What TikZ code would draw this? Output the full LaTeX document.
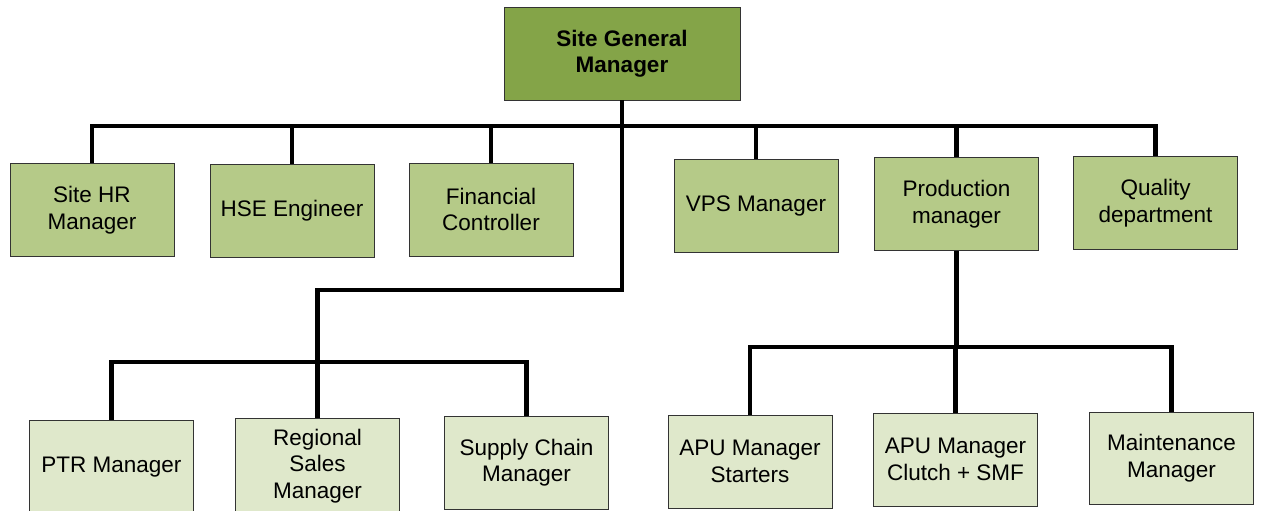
\documentclass[tikz,border=0pt]{standalone}
\usepackage{fontspec}
\setmainfont{Liberation Sans}
\definecolor{topgreen}{HTML}{84A448}
\definecolor{midgreen}{HTML}{B5CA88}
\definecolor{lowgreen}{HTML}{DFE8CB}
\begin{document}
\begin{tikzpicture}[x=1pt, y=-1pt,
	box/.style={draw=black!80, line width=0.8pt, align=center, inner sep=2pt,
		font=\fontsize{22.5}{26.5}\selectfont},
	topbox/.style={box, fill=topgreen, minimum width=236pt, minimum height=93pt,
		font=\fontsize{22.5}{26.5}\selectfont\bfseries},
	midbox/.style={box, fill=midgreen, minimum width=164pt, minimum height=93pt},
	lowbox/.style={box, fill=lowgreen, minimum width=164pt},
	link/.style={draw=black, line width=4.5pt}]
	
	\useasboundingbox (0,0) rectangle (1261,511);
	
	\node[topbox] (sgm) at (622, 53.5) {Site General\\Manager};
	
	\node[midbox] (hr) at (92, 210) {Site HR\\Manager};
	\node[midbox] (hse) at (292, 211) {HSE Engineer};
	\node[midbox] (fin) at (491, 209.5) {Financial\\Controller};
	\node[midbox] (vps) at (756, 206) {VPS Manager};
	\node[midbox] (prod) at (956.5, 204) {Production\\manager};
	\node[midbox] (qual) at (1155.5, 203) {Quality\\department};
	
	\node[lowbox, minimum height=94pt] (ptr) at (111.5, 467) {PTR Manager};
	\node[lowbox, minimum height=96pt] (reg) at (317.5, 466) {Regional\\Sales\\Manager};
	\node[lowbox, minimum height=93pt] (sup) at (526.5, 462.5) {Supply Chain\\Manager};
	\node[lowbox, minimum height=93pt] (apus) at (750, 461.5) {APU Manager\\Starters};
	\node[lowbox, minimum height=93pt] (apuc) at (955.5, 459.5) {APU Manager\\Clutch + SMF};
	\node[lowbox, minimum height=92pt] (mnt) at (1171.5, 458) {Maintenance\\Manager};
	
	\coordinate (bus1) at (622, 126);
	\coordinate (split) at (622, 290);
	\coordinate (bus2) at (318, 362);
	\coordinate (bus3) at (956.5, 347);
	
	% top row
	\draw[link] (hr.north) |- (bus1) -| (qual.north);
	\draw[link] (hse.north) -- (hse.north |- bus1);
	\draw[link] (fin.north) -- (fin.north |- bus1);
	\draw[link] (vps.north) -- (vps.north |- bus1);
	\draw[link] (prod.north) -- (prod.north |- bus1);
	
	% left branch
	\draw[link] (sgm.south) -- (split) -| (reg.north);
	\draw[link] (ptr.north) |- (bus2) -| (sup.north);
	
	% production branch
	\draw[link] (prod.south) -- (bus3);
	\draw[link] (apus.north) |- (bus3) -| (mnt.north);
	\draw[link] (apuc.north) -- (apuc.north |- bus3);
\end{tikzpicture}
\end{document}
